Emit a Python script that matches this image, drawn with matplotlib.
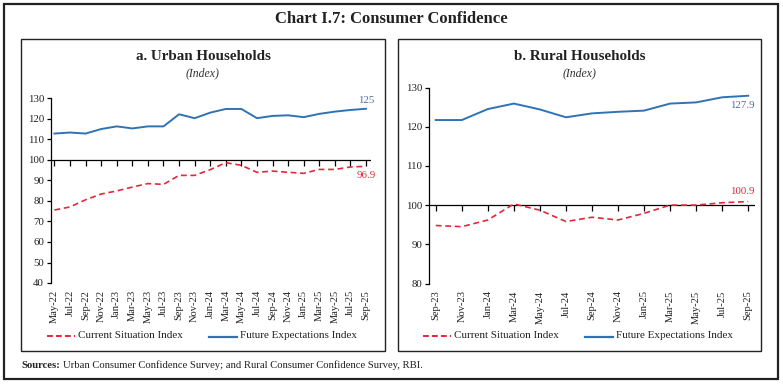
import matplotlib
matplotlib.use("Agg")
import matplotlib.pyplot as plt
from matplotlib.patches import Rectangle
import numpy as np

# ---------------- data ----------------
urban_months = ["May-22", "Jul-22", "Sep-22", "Nov-22", "Jan-23", "Mar-23", "May-23",
                "Jul-23", "Sep-23", "Nov-23", "Jan-24", "Mar-24", "May-24", "Jul-24",
                "Sep-24", "Nov-24", "Jan-25", "Mar-25", "May-25", "Jul-25", "Sep-25"]
urban_current = [75.6, 77.1, 80.6, 83.4, 84.9, 86.8, 88.5, 88.1, 92.5, 92.5, 95.3,
                 98.7, 97.4, 94.0, 94.6, 94.0, 93.5, 95.4, 95.4, 96.6, 96.9]
urban_future = [112.9, 113.4, 112.9, 115.1, 116.4, 115.4, 116.4, 116.4, 122.3, 120.4,
                123.1, 124.9, 124.9, 120.4, 121.5, 121.8, 120.9, 122.5, 123.6, 124.4, 125.0]

rural_months = ["Sep-23", "Nov-23", "Jan-24", "Mar-24", "May-24", "Jul-24", "Sep-24",
                "Nov-24", "Jan-25", "Mar-25", "May-25", "Jul-25", "Sep-25"]
rural_current = [94.8, 94.5, 96.2, 100.3, 98.7, 95.8, 96.9, 96.2, 97.9, 100.0, 100.0,
                 100.6, 100.9]
rural_future = [121.7, 121.7, 124.5, 125.9, 124.4, 122.4, 123.4, 123.8, 124.1, 125.9,
                126.2, 127.5, 127.9]

urban_yticks = [40, 50, 60, 70, 80, 90, 100, 110, 120, 130]
rural_yticks = [80, 90, 100, 110, 120, 130]

RED = "#E8253A"
BLUE = "#2F73B5"
SERIF = ["Liberation Serif", "DejaVu Serif"]

W, H = 783, 384
fig = plt.figure(figsize=(W / 100, H / 100), dpi=100)
fig.patch.set_facecolor("white")


def px_axes(x0, y0, x1, y1):
    """axes from pixel box (top-left origin)"""
    return fig.add_axes([x0 / W, 1 - y1 / H, (x1 - x0) / W, (y1 - y0) / H])


def fx(x):
    return x / W


def fy(y):
    return 1 - y / H


# outer frame
fig.add_artist(Rectangle((fx(4), fy(379)), fx(774), (375) / H, transform=fig.transFigure,
                         fill=False, edgecolor="#222222", lw=1.6))
# panel frames
for (x0, x1) in [(21, 385), (398, 761)]:
    fig.add_artist(Rectangle((fx(x0), fy(351)), (x1 - x0) / W, (351 - 39) / H,
                             transform=fig.transFigure, fill=False,
                             edgecolor="#222222", lw=1.0))

fig.text(fx(391), fy(19), "Chart I.7: Consumer Confidence", ha="center", va="center",
         fontsize=12, fontweight="bold", family=SERIF, color="#222222")


def panel(ax, months, cur, fut, yticks, ylim):
    n = len(months)
    x = np.arange(n)
    ax.plot(x, fut, color=BLUE, lw=1.4, solid_joinstyle="round")
    ax.plot(x, cur, color=RED, lw=1.2, dashes=(3.5, 2.2))
    ax.set_ylim(*ylim)
    pad = 0.22 if n > 15 else 0.26
    ax.set_xlim(-pad, n - 1 + pad + (0.1 if n > 15 else 0))
    ax.axhline(100, color="black", lw=0.9, zorder=1)
    ax.plot(x, [100] * n, linestyle="none", marker=3, ms=4, mew=0.9, color="black",
            zorder=1)
    ax.set_xticks(x)
    ax.set_xticklabels(months, rotation=90, fontsize=7.6, family=SERIF, color="#222222")
    ax.tick_params(axis="x", length=0, pad=5)
    ax.set_yticks(yticks)
    ax.set_yticklabels([str(v) for v in yticks], fontsize=7.8, family=SERIF, color="#222222")
    ax.tick_params(axis="y", length=3, width=0.9, pad=2, direction="out")
    for s in ["top", "right", "bottom"]:
        ax.spines[s].set_visible(False)
    ax.spines["left"].set_linewidth(0.9)
    ax.spines["left"].set_bounds(ylim[0], ylim[1])
    ax.patch.set_alpha(0)
    return x


# ---------------- left panel ----------------
axL = px_axes(51, 98.5, 371, 283)
xL = panel(axL, urban_months, urban_current, urban_future, urban_yticks, (40, 130))
axL.annotate(f"{urban_future[-1]:.0f}", (xL[-1], urban_future[-1]), xytext=(0, 3),
             textcoords="offset points", ha="center", va="bottom", fontsize=7.8,
             family=SERIF, color="#4A6FA8")
axL.annotate(f"{urban_current[-1]:.1f}", (xL[-1], urban_current[-1]), xytext=(0, -3),
             textcoords="offset points", ha="center", va="top", fontsize=7.8,
             family=SERIF, color=RED)

# ---------------- right panel ----------------
axR = px_axes(429, 87.5, 755, 283.5)
xR = panel(axR, rural_months, rural_current, rural_future, rural_yticks, (80, 130))
axR.annotate(f"{rural_future[-1]:.1f}", (xR[-1], rural_future[-1]), xytext=(-4, -4),
             textcoords="offset points", ha="center", va="top", fontsize=7.8,
             family=SERIF, color="#4A6FA8")
axR.annotate(f"{rural_current[-1]:.1f}", (xR[-1], rural_current[-1]), xytext=(-4, 4),
             textcoords="offset points", ha="center", va="bottom", fontsize=7.8,
             family=SERIF, color=RED)

# titles
for cx, t, ty in [(203, "a. Urban Households", 56), (580, "b. Rural Households", 56)]:
    fig.text(fx(cx), fy(ty), t, ha="center", va="center", fontsize=10.8,
             fontweight="bold", family=SERIF, color="#222222")
    fig.text(fx(cx), fy(73), "(Index)", ha="center", va="center", fontsize=8.5,
             style="italic", family=SERIF, color="#333333")

# legends
for (rx, bx) in [(47, 209), (423, 585)]:
    fig.add_artist(plt.Line2D([fx(rx), fx(rx + 28)], [fy(336), fy(336)], color=RED,
                              lw=1.4, dashes=(3, 1.6), transform=fig.transFigure))
    fig.text(fx(rx + 31), fy(335.5), "Current Situation Index", ha="left", va="center",
             fontsize=8, family=SERIF, color="#222222")
    fig.add_artist(plt.Line2D([fx(bx), fx(bx + 28)], [fy(336.5), fy(336.5)], color=BLUE,
                              lw=1.6, transform=fig.transFigure))
    fig.text(fx(bx + 31), fy(336), "Future Expectations Index", ha="left", va="center",
             fontsize=8, family=SERIF, color="#222222")

# sources
t1 = fig.text(fx(21), fy(365), "Sources:", ha="left", va="center", fontsize=7.7,
              fontweight="bold", family=SERIF, color="#222222")
fig.canvas.draw()
bb = t1.get_window_extent()
fig.text((bb.x1 + 3) / W, fy(365),
         "Urban Consumer Confidence Survey; and Rural Consumer Confidence Survey, RBI.",
         ha="left", va="center", fontsize=7.7, family=SERIF, color="#222222")

fig.savefig("out.png", dpi=100, facecolor="white")
